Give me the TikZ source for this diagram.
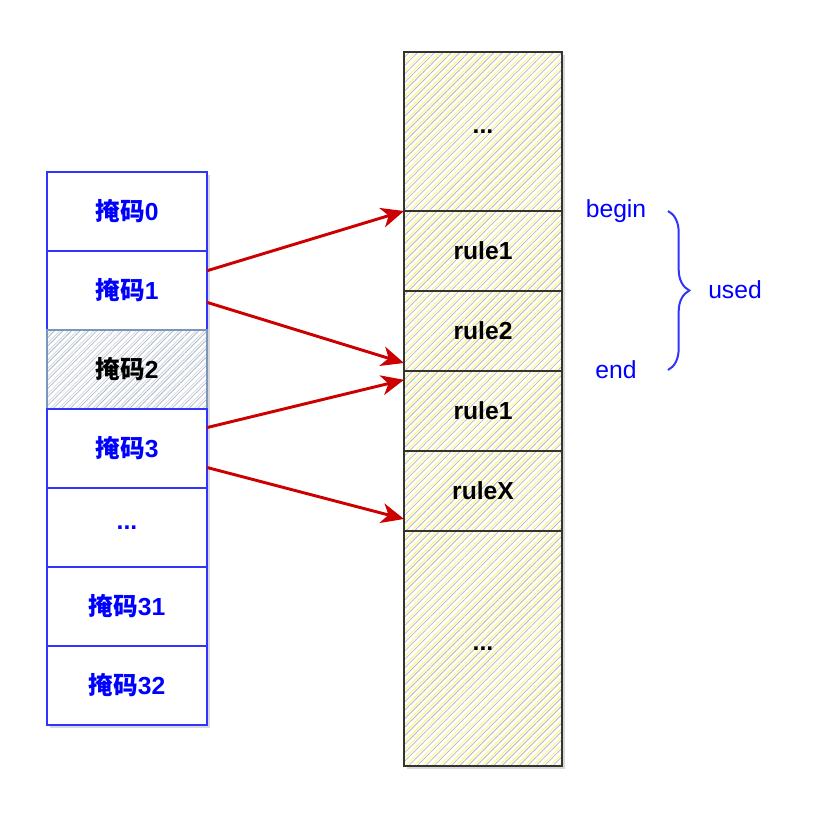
\documentclass[tikz,border=0pt]{standalone}
\usepackage{fontspec}
\setmainfont{Liberation Sans}
\newfontfamily\cjk{Noto Sans CJK SC}
\usepackage{tikz}
\usetikzlibrary{arrows.meta,positioning,calc,patterns.meta,shadows,decorations.pathreplacing}

\definecolor{maskblue}{HTML}{3333FF}
\definecolor{masktext}{HTML}{0000FF}
\definecolor{usedgray}{HTML}{7A96BE}
\definecolor{usedline}{HTML}{C9DAF2}
\definecolor{rulegray}{HTML}{333333}
\definecolor{ruleline}{HTML}{FFF56A}
\definecolor{arrowred}{HTML}{CC0000}

\newcommand{\maskname}[1]{{\cjk 掩码}#1}

\begin{document}
\begin{tikzpicture}[
    x=0.75pt, y=-0.75pt,
    cell/.style={rectangle, line width=1.5pt, inner sep=0pt, outer sep=0pt, align=center,
        drop shadow={shadow xshift=2pt, shadow yshift=-2pt, opacity=0.3}},
    mask/.style={cell, draw=maskblue, preaction={fill=white}, minimum width=120pt, minimum height=59.25pt,
        font=\bfseries\fontsize{18.5}{22}\selectfont, text=masktext},
    usedmask/.style={cell, draw=usedgray, minimum width=120pt, minimum height=59.25pt,
        font=\bfseries\fontsize{18.5}{22}\selectfont, text=black,
        preaction={fill=white},
        preaction={pattern={Lines[angle=45,distance=4.5pt,line width=0.6pt]}, pattern color=gray!55},
        preaction={pattern={Lines[angle=45,distance=4.5pt,yshift=2.25pt,line width=0.6pt]}, pattern color=usedline}},
    rulecell/.style={cell, draw=rulegray, line width=1.8pt, minimum width=118.5pt, minimum height=60pt,
        font=\bfseries\fontsize{18.5}{22}\selectfont, text=black,
        preaction={fill=white},
        preaction={pattern={Lines[angle=45,distance=4.5pt,line width=0.6pt]}, pattern color=gray!55},
        preaction={pattern={Lines[angle=45,distance=4.5pt,yshift=2.25pt,line width=0.6pt]}, pattern color=ruleline}},
    lbl/.style={font=\fontsize{18.5}{22}\selectfont, text=masktext},
    link/.style={-{Stealth[length=17pt,width=15pt,inset=5pt]}, line width=2.2pt, draw=arrowred},
    brace/.style={decorate, decoration={brace, amplitude=16pt}, draw=maskblue, line width=1.5pt}
]
\useasboundingbox (0,0) rectangle (820,818);

% Mask table
\node[mask] (m0) at (127,211.5) {\maskname{0}};
\node[mask, below=0pt of m0] (m1) {\maskname{1}};
\node[usedmask, below=0pt of m1] (m2) {\maskname{2}};
\node[mask, below=0pt of m2] (m3) {\maskname{3}};
\node[mask, below=0pt of m3] (mdots) {...};
\node[mask, below=0pt of mdots] (m31) {\maskname{31}};
\node[mask, below=0pt of m31] (m32) {\maskname{32}};

% Rule list
\node[rulecell, minimum height=119.25pt] (r0) at (483,131.5) {...};
\node[rulecell, below=0pt of r0] (r1) {rule1};
\node[rulecell, below=0pt of r1] (r2) {rule2};
\node[rulecell, below=0pt of r2] (r3) {rule1};
\node[rulecell, below=0pt of r3] (r4) {ruleX};
\node[rulecell, minimum height=176.25pt, below=0pt of r4] (r5) {...};

% Links
\draw[link] ($(m1.east)!0.5!(m1.north east)$) -- (r1.north west);
\draw[link] ($(m1.east)!0.3!(m1.south east)$) -- ($(r2.south west)!0.1!(r2.north west)$);
\draw[link] ($(m3.east)!0.53!(m3.north east)$) -- ($(r3.north west)!0.11!(r3.south west)$);
\draw[link] ($(m3.east)!0.48!(m3.south east)$) -- ($(r4.south west)!0.15!(r4.north west)$);

% Used range
\node[lbl] (lbegin) at (616,211) {begin};
\node[lbl] (lend) at (616,370) {end};
\node[lbl] (lused) at (735,290) {used};
\coordinate (btop) at (668,211);
\coordinate (bbot) at (668,370);
\draw[brace] (btop) -- (bbot);

\end{tikzpicture}
\end{document}
